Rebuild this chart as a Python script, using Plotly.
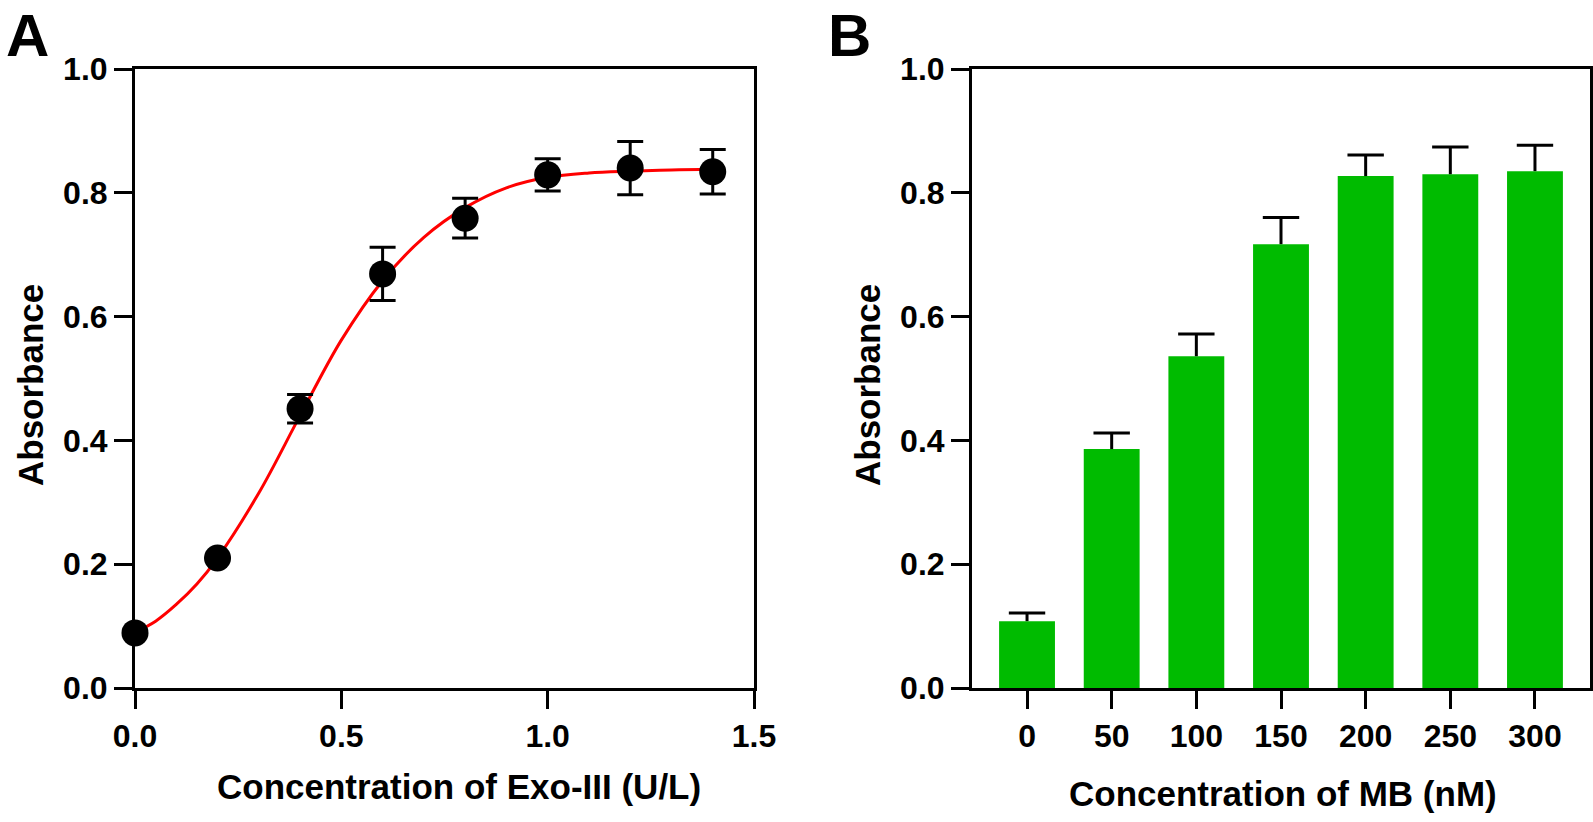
import plotly.graph_objects as go

# Panel A: Exo-III titration (mean +/- SD) and the fitted curve
exo_conc = [0.0, 0.2, 0.4, 0.6, 0.8, 1.0, 1.2, 1.4]
exo_abs = [0.089, 0.210, 0.451, 0.669, 0.759, 0.829, 0.840, 0.834]
exo_err = [0.0, 0.0, 0.023, 0.043, 0.032, 0.026, 0.043, 0.036]

fit_x = [0.0, 0.05, 0.1, 0.15, 0.2, 0.3, 0.4, 0.5, 0.6, 0.7, 0.8, 0.9, 1.0, 1.1, 1.2, 1.3, 1.4]
fit_y = [0.090, 0.108, 0.135, 0.168, 0.210, 0.315, 0.440, 0.562, 0.658, 0.728, 0.776, 0.808, 0.825, 0.832, 0.835, 0.837, 0.838]

# Panel B: MB concentration
mb_labels = ["0", "50", "100", "150", "200", "250", "300"]
mb_abs = [0.108, 0.386, 0.536, 0.717, 0.827, 0.830, 0.835]
mb_err = [0.013, 0.026, 0.036, 0.043, 0.034, 0.044, 0.042]

W, H = 1593, 822
FONT = "Liberation Sans, Arial, sans-serif"
GREEN = "rgb(0,187,0)"

fig = go.Figure()

fig.add_trace(go.Scatter(
    x=fit_x, y=fit_y, mode="lines", line=dict(color="red", width=3, shape="spline"),
    xaxis="x", yaxis="y", showlegend=False, hoverinfo="skip", cliponaxis=False))

fig.add_trace(go.Scatter(
    x=exo_conc, y=exo_abs, mode="markers",
    marker=dict(color="black", size=27),
    error_y=dict(type="data", array=exo_err, visible=True, color="black", thickness=3, width=13),
    xaxis="x", yaxis="y", showlegend=False, cliponaxis=False))

fig.add_trace(go.Bar(
    x=mb_labels, y=mb_abs, width=0.66,
    marker=dict(color=GREEN, line=dict(width=0)),
    xaxis="x2", yaxis="y2", showlegend=False))

# upper-only error bars for the bars: stems plus a cap on top
stem_x, stem_y = [], []
for lab, v, e in zip(mb_labels, mb_abs, mb_err):
    stem_x += [lab, lab, None]
    stem_y += [v, v + e, None]
fig.add_trace(go.Scatter(
    x=stem_x, y=stem_y, mode="lines", line=dict(color="black", width=3),
    xaxis="x2", yaxis="y2", showlegend=False, hoverinfo="skip"))
fig.add_trace(go.Scatter(
    x=mb_labels, y=[v + e for v, e in zip(mb_abs, mb_err)], mode="markers",
    marker=dict(symbol="line-ew", size=26, line=dict(color="black", width=3)),
    xaxis="x2", yaxis="y2", showlegend=False, hoverinfo="skip"))

axis_style = dict(
    showline=True, linewidth=3, linecolor="black", mirror=True,
    ticks="outside", ticklen=18, tickwidth=3, tickcolor="black",
    showgrid=False, zeroline=False, automargin=False,
    tickfont=dict(family=FONT, size=32, color="black", weight="bold"),
)

ydom = [1 - 688 / H, 1 - 69 / H]

fig.update_layout(
    width=W, height=H,
    margin=dict(l=0, r=0, t=0, b=0, autoexpand=False),
    paper_bgcolor="white", plot_bgcolor="white",
    xaxis=dict(domain=[135 / W, 754 / W], range=[0, 1.5], tickvals=[0, 0.5, 1.0, 1.5],
               tickformat=".1f", anchor="y", **axis_style),
    yaxis=dict(domain=ydom, range=[0, 1], dtick=0.2, tickformat=".1f", anchor="x", **axis_style),
    xaxis2=dict(domain=[972 / W, 1590 / W], type="category", range=[-0.65, 6.65],
                anchor="y2", **axis_style),
    yaxis2=dict(domain=ydom, range=[0, 1], dtick=0.2, tickformat=".1f", anchor="x2", **axis_style),
)

title_font = dict(family=FONT, size=35, color="black", weight="bold")
label_font = dict(family=FONT, size=60, color="black", weight="bold")

annotations = [
    dict(text="A", x=4 / W, y=1, xanchor="left", yanchor="top", font=label_font),
    dict(text="B", x=826 / W, y=1, xanchor="left", yanchor="top", font=label_font),
    dict(text="Concentration of Exo-III (U/L)", x=459 / W, y=1 - 786 / H,
         xanchor="center", yanchor="middle", font=title_font),
    dict(text="Concentration of MB (nM)", x=1283 / W, y=1 - 793 / H,
         xanchor="center", yanchor="middle", font=title_font),
    dict(text="Absorbance", x=31 / W, y=1 - 385 / H, textangle=-90,
         xanchor="center", yanchor="middle", font=title_font),
    dict(text="Absorbance", x=868 / W, y=1 - 385 / H, textangle=-90,
         xanchor="center", yanchor="middle", font=title_font),
]
for a in annotations:
    a.update(xref="paper", yref="paper", showarrow=False)
fig.update_layout(annotations=annotations)

# the page body has a default 8px margin; drop it so the figure fills the window
fig.write_html("out.html", config={"displayModeBar": False},
               post_script="document.body.style.margin='0';")
